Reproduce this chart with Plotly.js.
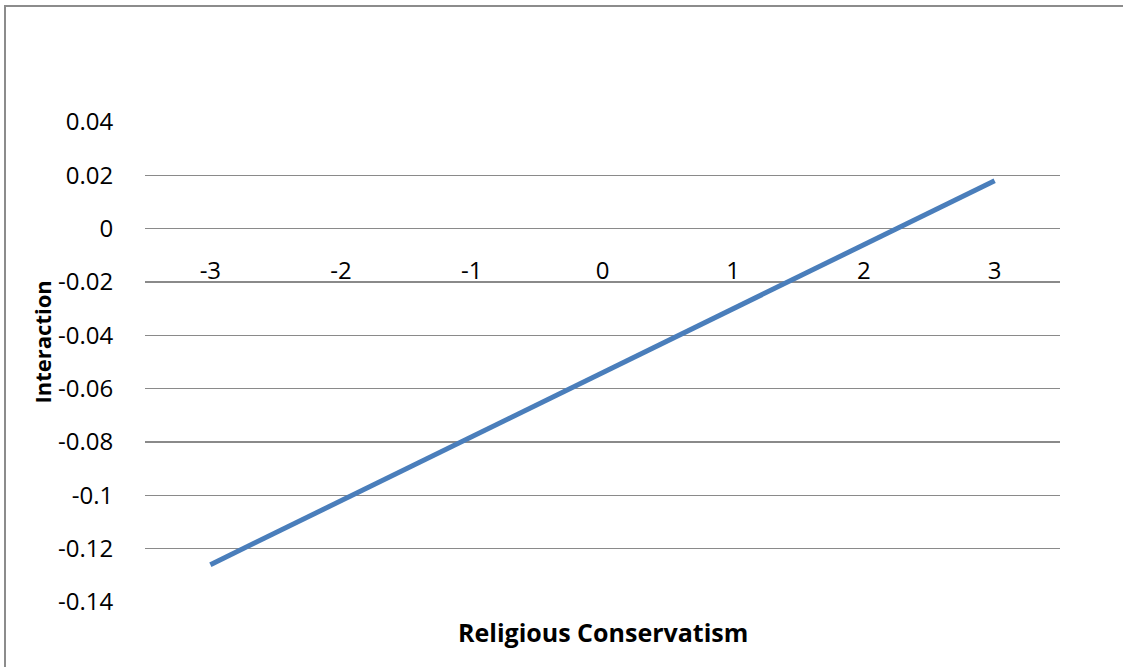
<!DOCTYPE html>
<html>
<head>
<meta charset="utf-8">
<script src="https://cdn.plot.ly/plotly-3.0.1.min.js"></script>
<style>
  html, body { margin: 0; padding: 0; background: #fff; }
  #wrap { position: relative; width: 1123px; height: 667px; overflow: hidden; }
  #chart { width: 1123px; height: 667px; }
  #frame { position: absolute; left: 4px; top: 5px; width: 1200px; height: 800px;
           border-left: 2px solid #8c8c8c; border-top: 2px solid #8c8c8c; pointer-events: none; }
</style>
</head>
<body>
<div id="wrap">
  <div id="chart"></div>
  <div id="frame"></div>
</div>
<script>
// Religious conservatism levels and the estimated interaction at each level
const conservatism = [-3, -2, -1, 0, 1, 2, 3];
const interaction = [-0.126, -0.102, -0.078, -0.054, -0.030, -0.006, 0.018];
const yTicks = [0.04, 0.02, 0, -0.02, -0.04, -0.06, -0.08, -0.1, -0.12, -0.14];
const yTickLabels = ['0.04', '0.02', '0', '-0.02', '-0.04', '-0.06', '-0.08', '-0.1', '-0.12', '-0.14'];

const FONT = '"Open Sans", "Noto Sans CJK KR", sans-serif';
const yMin = -0.14, yMax = 0.04;

const trace = {
  x: conservatism,
  y: interaction,
  type: 'scatter',
  mode: 'lines',
  line: { color: '#4a7ebb', width: 5 },
  hoverinfo: 'skip'
};

const layout = {
  width: 1123,
  height: 667,
  margin: { l: 145, r: 63, t: 122, b: 65 },
  paper_bgcolor: '#ffffff',
  plot_bgcolor: '#ffffff',
  showlegend: false,
  font: { family: FONT, size: 24, color: '#000000' },
  xaxis: {
    range: [-3.5, 3.5],
    tickmode: 'array',
    tickvals: conservatism,
    ticktext: conservatism.map(String),
    showgrid: false,
    zeroline: false,
    showline: false,
    anchor: 'free',
    // category labels sit just under the y = 0 line
    position: (0 - yMin) / (yMax - yMin),
    ticks: 'outside',
    ticklen: 21,
    tickcolor: 'rgba(0,0,0,0)',
    tickfont: { family: FONT, size: 24, color: '#000' },
    fixedrange: true
  },
  yaxis: {
    range: [yMin, yMax],
    tickmode: 'array',
    tickvals: yTicks,
    ticktext: yTickLabels,
    showgrid: true,
    gridcolor: '#8a8a8a',
    gridwidth: 1.5,
    zeroline: false,
    showline: false,
    ticks: 'outside',
    ticklen: 26,
    tickcolor: 'rgba(0,0,0,0)',
    tickfont: { family: FONT, size: 24, color: '#000' },
    automargin: false,
    fixedrange: true
  },
  annotations: [{
    text: '<b>Religious Conservatism</b>',
    xref: 'paper', yref: 'paper',
    x: 0.5, y: -0.063,
    xanchor: 'center', yanchor: 'middle',
    showarrow: false,
    font: { family: FONT, size: 25, color: '#000' }
  }, {
    text: '<b>Interaction</b>',
    xref: 'paper', yref: 'paper',
    x: -0.113, y: 0.542,
    xanchor: 'center', yanchor: 'middle',
    textangle: -90,
    showarrow: false,
    font: { family: FONT, size: 22, color: '#000' }
  }]
};

Plotly.newPlot('chart', [trace], layout, { displayModeBar: false, staticPlot: true });
</script>
</body>
</html>
